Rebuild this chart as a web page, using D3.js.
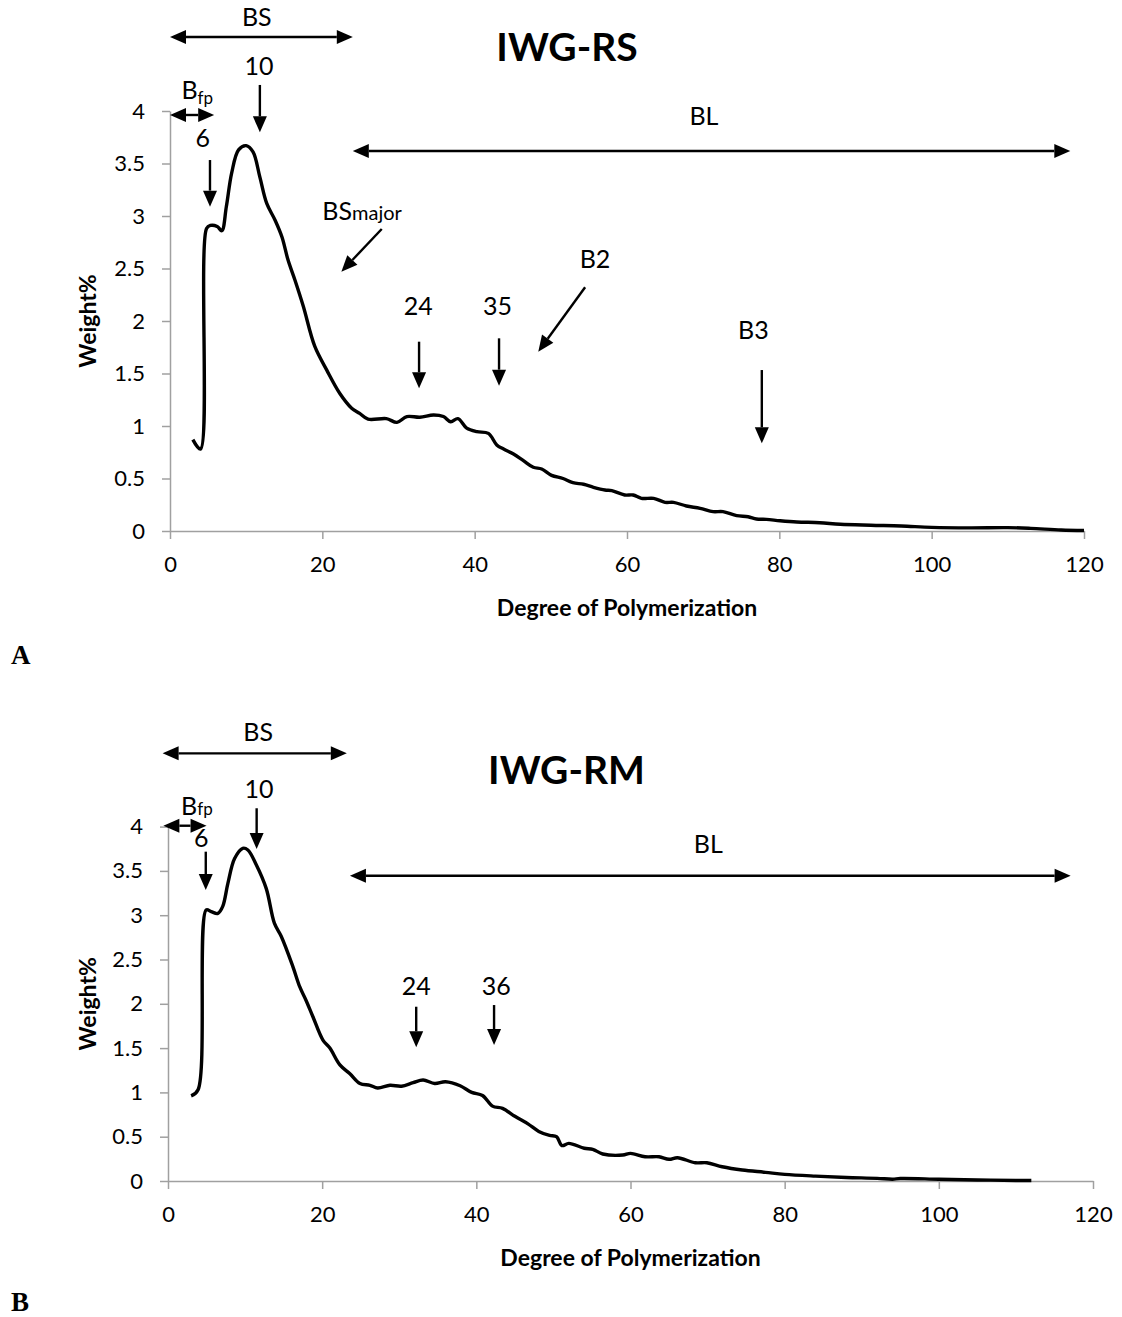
<!DOCTYPE html>
<html>
<head>
<meta charset="utf-8">
<script src="https://cdn.jsdelivr.net/npm/d3@7"></script>
<style>
  body { margin: 0; background: #fff; }
  text { font-family: Lato, "Open Sans", sans-serif; fill: #000; }
</style>
</head>
<body>
<svg id="chart" width="1122" height="1317"></svg>
<script>
// Degree of polymerization / weight%
var rsDP = [3, 4, 4.8, 5.3, 6.2, 6.8, 7.4, 8.1, 9.0, 10.0, 10.9, 11.8, 12.7, 13.8, 14.7, 15.5, 16.4, 17.5, 19.0, 20.6,
    22.3, 23.85, 24.9, 26.0, 28.4, 29.8, 31.1, 32.8, 34.6, 35.9, 36.85, 37.8, 38.95, 40.3, 41.8, 42.9, 43.8, 45.1, 46.4, 47.7,
    48.8, 50.1, 51.6, 52.9, 54.3, 55.6, 57.1, 58.0, 59.7, 60.8, 61.9, 63.5, 65.0, 66.1, 67.8, 69.6, 71.3, 72.6, 74.4, 75.9,
    77.0, 78.3, 80.1, 82.3, 85.3, 88.0, 92, 96, 100, 105, 110, 113, 117, 120];
var rsWeight = [0.87, 0.78, 2.88, 2.91, 2.90, 2.86, 3.09, 3.41, 3.63, 3.67, 3.61, 3.37, 3.12, 2.96, 2.80, 2.58, 2.39, 2.14, 1.76, 1.53,
    1.31, 1.17, 1.12, 1.065, 1.07, 1.035, 1.09, 1.083, 1.105, 1.09, 1.04, 1.07, 0.98, 0.946, 0.93, 0.82, 0.78, 0.733, 0.67, 0.607,
    0.59, 0.53, 0.50, 0.46, 0.445, 0.416, 0.39, 0.384, 0.343, 0.343, 0.311, 0.311, 0.273, 0.273, 0.238, 0.216, 0.184, 0.184, 0.146, 0.136,
    0.114, 0.111, 0.098, 0.086, 0.079, 0.064, 0.055, 0.048, 0.035, 0.03, 0.032, 0.025, 0.01, 0.005];

var rmDP = [3, 3.9, 4.96, 5.6, 6.47, 7.1, 7.77, 8.64, 9.7, 10.36, 11.45, 12.75, 13.8, 14.7, 16.2, 17.1, 17.9, 18.8, 20.1, 21.0,
    22.3, 23.6, 24.9, 26.2, 27.2, 28.8, 30.3, 31.8, 33.1, 34.6, 36.0, 37.9, 39.4, 40.8, 42.1, 43.4, 45.0, 46.7, 48.1, 49.5,
    50.4, 51.1, 52.0, 54.0, 55.1, 56.4, 59.0, 60.0, 61.9, 63.7, 65.0, 66.1, 68.4, 69.9, 71.9, 74.5, 77.5, 80.0, 84, 88,
    92, 94, 95, 100, 105, 110, 112];
var rmWeight = [0.96, 1.03, 3.06, 3.04, 3.02, 3.10, 3.36, 3.64, 3.755, 3.736, 3.57, 3.30, 2.91, 2.76, 2.42, 2.19, 2.04, 1.854, 1.59, 1.50,
    1.31, 1.21, 1.10, 1.08, 1.05, 1.08, 1.07, 1.11, 1.14, 1.10, 1.12, 1.075, 1.00, 0.965, 0.845, 0.82, 0.73, 0.645, 0.56, 0.515,
    0.50, 0.40, 0.425, 0.37, 0.358, 0.305, 0.293, 0.312, 0.274, 0.274, 0.245, 0.263, 0.206, 0.206, 0.161, 0.124, 0.098, 0.075, 0.055, 0.04,
    0.03, 0.02, 0.028, 0.02, 0.012, 0.006, 0.006];

var xTicks = [0, 20, 40, 60, 80, 100, 120];
var yTicks = [0, 0.5, 1, 1.5, 2, 2.5, 3, 3.5, 4];

// annotations, placed in data units
var rsNotes = [
    { type: "both", x1: 0, x2: 24.0, y: 4.705 },
    { type: "text", text: "BS", x: 11.4, y: 4.81 },
    { type: "text", text: "10", x: 11.7, y: 4.343 },
    { type: "down", x: 11.8, y1: 4.248, y2: 3.797 },
    { type: "bfp", x: 1.5, y: 4.114, sub: true },
    { type: "both", x1: 0, x2: 5.8, y: 3.962 },
    { type: "text", text: "6", x: 4.3, y: 3.657 },
    { type: "down", x: 5.25, y1: 3.533, y2: 3.089 },
    { type: "both", x1: 24.0, x2: 118.2, y: 3.619 },
    { type: "text", text: "BL", x: 70.1, y: 3.867 },
    { type: "major", x: 20.0, y: 2.962 },
    { type: "diag", x1: 27.8, y1: 2.876, x2: 22.5, y2: 2.47 },
    { type: "text", text: "24", x: 32.6, y: 2.057 },
    { type: "down", x: 32.7, y1: 1.803, y2: 1.359 },
    { type: "text", text: "35", x: 43.0, y: 2.057 },
    { type: "down", x: 43.2, y1: 1.835, y2: 1.384 },
    { type: "text", text: "B2", x: 55.8, y: 2.505 },
    { type: "diag", x1: 54.5, y1: 2.321, x2: 48.35, y2: 1.708 },
    { type: "text", text: "B3", x: 76.6, y: 1.833 },
    { type: "down", x: 77.7, y1: 1.533, y2: 0.835 }
];
var rmNotes = [
    { type: "both", x1: -0.7, x2: 23.2, y: 4.827 },
    { type: "text", text: "BS", x: 11.7, y: 4.961 },
    { type: "text", text: "10", x: 11.8, y: 4.328 },
    { type: "down", x: 11.5, y1: 4.207, y2: 3.747 },
    { type: "bfp", x: 1.7, y: 4.131, sub: false },
    { type: "both", x1: -0.6, x2: 5.0, y: 4.01 },
    { type: "text", text: "6", x: 4.3, y: 3.775 },
    { type: "down", x: 4.9, y1: 3.717, y2: 3.284 },
    { type: "both", x1: 23.6, x2: 117.1, y: 3.446 },
    { type: "text", text: "BL", x: 70.1, y: 3.70 },
    { type: "text", text: "24", x: 32.2, y: 2.10 },
    { type: "down", x: 32.2, y1: 1.967, y2: 1.509 },
    { type: "text", text: "36", x: 42.6, y: 2.10 },
    { type: "down", x: 42.3, y1: 1.986, y2: 1.535 }
];

var svg = d3.select("#chart");
var axisColor = "#a0a0a0";

function arrowLine(g, x1, y1, x2, y2, both) {
    var headLen = 16, headW = 7;
    var dx = x2 - x1, dy = y2 - y1, len = Math.sqrt(dx * dx + dy * dy);
    var ux = dx / len, uy = dy / len;
    var sx = both ? x1 + ux * headLen : x1, sy = both ? y1 + uy * headLen : y1;
    g.append("line")
        .attr("x1", sx).attr("y1", sy)
        .attr("x2", x2 - ux * headLen).attr("y2", y2 - uy * headLen)
        .attr("stroke", "#000").attr("stroke-width", 2.4);
    var head = function (tx, ty, vx, vy) {
        var bx = tx - vx * headLen, by = ty - vy * headLen;
        g.append("path")
            .attr("d", "M" + tx + "," + ty + "L" + (bx - vy * headW) + "," + (by + vx * headW) +
                "L" + (bx + vy * headW) + "," + (by - vx * headW) + "Z")
            .attr("fill", "#000");
    };
    head(x2, y2, ux, uy);
    if (both) head(x1, y1, -ux, -uy);
}

function drawPanel(cfg) {
    var x = d3.scaleLinear().domain([0, 120]).range([cfg.left, cfg.right]);
    var y = d3.scaleLinear().domain([0, 4]).range([cfg.bottom, cfg.top]);
    var g = svg.append("g");

    var xAxis = g.append("g")
        .attr("transform", "translate(0," + cfg.bottom + ")")
        .call(d3.axisBottom(x).tickValues(xTicks).tickSize(8).tickSizeOuter(0).tickPadding(17));
    var yAxis = g.append("g")
        .attr("transform", "translate(" + cfg.left + ",0)")
        .call(d3.axisLeft(y).tickValues(yTicks).tickSize(8).tickSizeOuter(0).tickPadding(17).tickFormat(d => String(d)));
    [xAxis, yAxis].forEach(function (a) {
        a.select(".domain").attr("stroke", axisColor).attr("stroke-width", 1.5);
        a.selectAll(".tick line").attr("stroke", axisColor).attr("stroke-width", 1.5);
        a.selectAll(".tick text").attr("font-family", "Lato, sans-serif").attr("font-size", 22).attr("fill", "#000");
    });

    var pts = cfg.dp.map((d, i) => [d, cfg.w[i]]);
    g.append("path")
        .datum(pts)
        .attr("d", d3.line().x(d => x(d[0])).y(d => y(d[1])).curve(d3.curveCatmullRom.alpha(0.5)))
        .attr("fill", "none")
        .attr("stroke", "#000")
        .attr("stroke-width", 3.4)
        .attr("stroke-linejoin", "round");

    // titles and axis labels
    g.append("text")
        .attr("x", (cfg.left + cfg.right) / 2 + cfg.titleShift).attr("y", cfg.titleY)
        .attr("text-anchor", "middle").attr("font-weight", "bold").attr("font-size", 39)
        .text(cfg.title);
    g.append("text")
        .attr("x", (cfg.left + cfg.right) / 2).attr("y", cfg.bottom + 85)
        .attr("text-anchor", "middle").attr("font-weight", "bold").attr("font-size", 23)
        .text("Degree of Polymerization");
    g.append("text")
        .attr("transform", "translate(96," + ((cfg.top + cfg.bottom) / 2) + ") rotate(-90)")
        .attr("text-anchor", "middle").attr("font-weight", "bold").attr("font-size", 23)
        .text("Weight%");
    g.append("text")
        .attr("x", 11).attr("y", cfg.letterY)
        .attr("font-weight", "bold").attr("font-size", 27)
        .style("font-family", "'Liberation Serif', serif")
        .text(cfg.letter);

    // annotations
    var ann = g.append("g");
    cfg.notes.forEach(function (n) {
        if (n.type === "both") {
            arrowLine(ann, x(n.x1), y(n.y), x(n.x2), y(n.y), true);
        } else if (n.type === "down") {
            arrowLine(ann, x(n.x), y(n.y1), x(n.x), y(n.y2), false);
        } else if (n.type === "diag") {
            arrowLine(ann, x(n.x1), y(n.y1), x(n.x2), y(n.y2), false);
        } else if (n.type === "text") {
            ann.append("text").attr("x", x(n.x)).attr("y", y(n.y))
                .attr("text-anchor", "middle").attr("font-size", 25).text(n.text);
        } else if (n.type === "bfp") {
            var t = ann.append("text").attr("x", x(n.x)).attr("y", y(n.y)).attr("font-size", 25);
            t.append("tspan").text("B");
            t.append("tspan").attr("font-size", 17).attr("dy", n.sub ? 5 : 0).text("fp");
        } else if (n.type === "major") {
            var m = ann.append("text").attr("x", x(n.x)).attr("y", y(n.y)).attr("font-size", 25);
            m.append("tspan").text("BS");
            m.append("tspan").attr("font-size", 20).text("major");
        }
    });
}

drawPanel({
    dp: rsDP, w: rsWeight, notes: rsNotes, title: "IWG-RS", letter: "A",
    left: 170, right: 1084, top: 111, bottom: 531, titleY: 61, titleShift: -60, letterY: 664
});
drawPanel({
    dp: rmDP, w: rmWeight, notes: rmNotes, title: "IWG-RM", letter: "B",
    left: 168, right: 1093, top: 826.6, bottom: 1181, titleY: 784, titleShift: -64, letterY: 1311
});
</script>
</body>
</html>
